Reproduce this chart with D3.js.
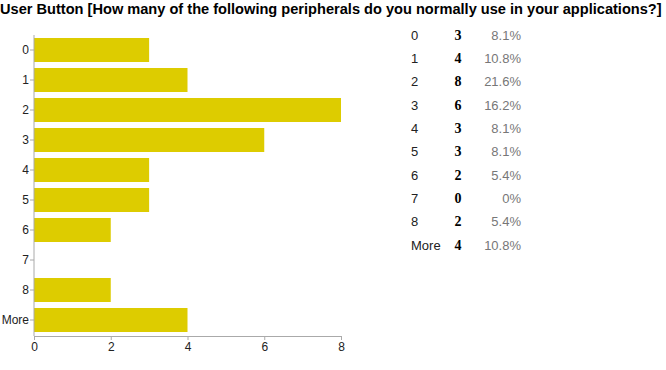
<!DOCTYPE html>
<html><head><meta charset="utf-8">
<script src="https://cdn.jsdelivr.net/npm/d3@7"></script>
<style>body{margin:0;background:#fff}svg{display:block}</style>
</head><body>
<script>
const title = "User Button [How many of the following peripherals do you normally use in your applications?]";
const categories = ["0","1","2","3","4","5","6","7","8","More"];
const counts = [3,4,8,6,3,3,2,0,2,4];
const percents = ["8.1%","10.8%","21.6%","16.2%","8.1%","8.1%","5.4%","0%","5.4%","10.8%"];
const xTicks = [0,2,4,6,8];

const W = 666, H = 370;
const svg = d3.select("body").append("svg").attr("width", W).attr("height", H);

svg.append("text").attr("x", 0).attr("y", 14)
  .attr("font-family", "Liberation Sans, Arial, sans-serif")
  .attr("font-weight", "bold").attr("font-size", 14.6).attr("fill", "#000")
  .text(title);

const x = d3.scaleLinear().domain([0, 8]).range([34, 341]);
const y = d3.scaleBand().domain(categories).range([35, 335]).paddingInner(0.2).paddingOuter(0.1);

const g = svg.append("g");
g.selectAll("rect").data(categories).join("rect")
  .attr("x", x(0)).attr("y", d => y(d))
  .attr("width", (d, i) => x(counts[i]) - x(0))
  .attr("height", y.bandwidth())
  .attr("fill", "#ddcc00");

const axisColor = "#aaa";
const yAxis = svg.append("g").attr("transform", `translate(${x(0)},0)`)
  .call(d3.axisLeft(y).tickSize(4).tickSizeOuter(0));
yAxis.select(".domain").remove();
yAxis.append("line").attr("x1", 0).attr("x2", 0).attr("y1", 35).attr("y2", 336).attr("stroke", axisColor);
yAxis.selectAll(".tick line").attr("stroke", axisColor);
yAxis.selectAll(".tick text").attr("fill", "#222").attr("font-size", 12)
  .attr("font-family", "Liberation Sans, Arial, sans-serif").attr("x", -5);

const xAxis = svg.append("g").attr("transform", `translate(0,336)`)
  .call(d3.axisBottom(x).tickValues(xTicks).tickFormat(d3.format("d")).tickSize(4).tickSizeOuter(0));
xAxis.select(".domain").attr("stroke", axisColor);
xAxis.selectAll(".tick line").attr("stroke", axisColor);
xAxis.selectAll(".tick text").attr("fill", "#222").attr("font-size", 12)
  .attr("font-family", "Liberation Sans, Arial, sans-serif").attr("y", 6);

// summary table
const rowY = d3.scalePoint().domain(categories).range([35, 245]);
const t = svg.append("g").attr("font-size", 13);
t.selectAll("text.lab").data(categories).join("text").attr("class", "lab")
  .attr("x", 411).attr("y", d => rowY(d) + 4.5)
  .attr("font-family", "Liberation Sans, Arial, sans-serif").attr("fill", "#222")
  .text(d => d);
t.selectAll("text.cnt").data(categories).join("text").attr("class", "cnt")
  .attr("x", 458).attr("y", d => rowY(d) + 4.5).attr("text-anchor", "middle")
  .attr("font-family", "Liberation Serif, Times New Roman, serif").attr("font-weight", "bold")
  .attr("font-size", 14).attr("fill", "#000")
  .text((d, i) => counts[i]);
t.selectAll("text.pct").data(categories).join("text").attr("class", "pct")
  .attr("x", 521).attr("y", d => rowY(d) + 4.5).attr("text-anchor", "end")
  .attr("font-family", "Liberation Sans, Arial, sans-serif").attr("fill", "#777")
  .text((d, i) => percents[i]);
</script>
</body></html>
